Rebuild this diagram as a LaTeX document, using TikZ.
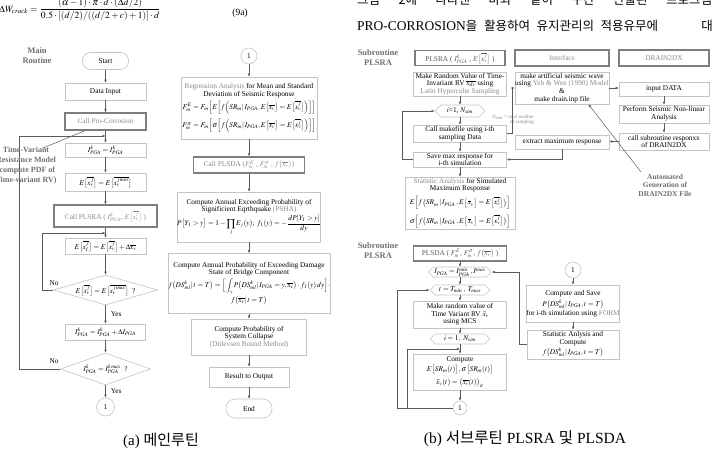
\documentclass[tikz,border=0pt]{standalone}
\usepackage{mathptmx}
\usepackage{fontspec}
\setmainfont{Liberation Serif}
\newfontfamily\kr{Noto Sans CJK KR}
\usetikzlibrary{arrows.meta,shapes.geometric,shapes.symbols,calc}
\definecolor{bgray}{HTML}{C4C4C4}
\definecolor{tgray}{HTML}{8A8A8A}
\definecolor{lgray}{HTML}{5A5A5A}
\definecolor{dgray}{HTML}{7E7E7E}
\definecolor{lblgray}{HTML}{707070}
\newcommand\fsz{\fontsize{7.3}{7.7}\selectfont}
\tikzset{
 fbox/.style={draw=bgray, line width=0.6pt, fill=white, align=center, inner sep=0pt, font=\fsz},
 tbox/.style={draw=dgray, line width=1.3pt, fill=white, align=center, inner sep=0pt, font=\fsz},
 term/.style={fbox, rounded corners=8pt},
 dshape/.style={diamond, draw=bgray, line width=0.6pt, inner sep=0pt, fill=white},
 hshape/.style={signal, signal to=west and east, signal pointer angle=90, draw=bgray, line width=0.6pt, inner sep=0pt, fill=white},
 conn/.style={circle, draw=bgray, line width=0.6pt, inner sep=0pt, minimum size=#1, font=\fsz, fill=white},
 arr/.style={draw=lgray, line width=0.5pt, -{Latex[length=3pt,width=2.6pt]}},
 ln/.style={draw=lgray, line width=0.5pt},
 lbl/.style={font=\bfseries\fontsize{8.5}{10}\selectfont, text=lblgray, align=center, inner sep=0pt},
 txt/.style={font=\fsz, inner sep=0pt, align=center},
 pagetxt/.style={anchor=base west, inner sep=0pt, font=\fontsize{12.5}{13}\selectfont},
}
\begin{document}
\begin{tikzpicture}[x=1pt,y=-1pt]
\useasboundingbox (0,0) rectangle (712,450);
% ---------- top page text ----------
\node[anchor=base west, inner sep=0pt, font=\fontsize{9.5}{10}\selectfont] (eq) at (-1,12) {$\displaystyle \Delta W_{crack}=\frac{(\alpha-1)\cdot\pi\cdot d\cdot(\Delta d/2)}{0.5\cdot[(d/2)/((d/2+c)+1)]\cdot d}$};
\node[anchor=base, inner sep=0pt, font=\fontsize{9.5}{10}\selectfont] (eqn) at (240,15.5) {(9a)};
\node[pagetxt] (kr1) at (357,4.5) {\makebox[355pt][s]{\kr 그림 2에 나타낸 바와 같이 구간 산출된 프로그램}};
\node[pagetxt] (kr2) at (357,30) {\makebox[301pt][s]{{\fontsize{13.5}{14}\selectfont PRO-CORROSION}{\kr 을 활용하여 유지관리의 적용유무에}}};
\node[pagetxt, anchor=base east] (kr3) at (713,30) {\kr 대};
% ---------- (a) main routine ----------
\node[lbl] (mainlbl) at (37,56) {Main\\Routine};
\node[term, minimum width=46pt, minimum height=17pt] (start) at (105.5,61) {Start};
\node[fbox, minimum width=81pt, minimum height=17pt] (datain) at (105.5,91.5) {Data Input};
\node[tbox, minimum width=81pt, minimum height=17pt, text=tgray] (callpc) at (105.5,121.5) {Call Pro-Corrosion};
\node[fbox, minimum width=81pt, minimum height=14pt] (ipga1) at (105.5,150) {$I^{k}_{PGA}=I^{k}_{PGA}$};
\node[fbox, minimum width=81pt, minimum height=18pt] (ex1) at (105.5,182) {$E\big[\overline{x^{j}_{v}}\big]=E\big[\overline{x^{j\,min}_{v}}\big]$};
\node[tbox, minimum width=103pt, minimum height=22pt, text=tgray] (cplsra) at (105.5,216) {Call PLSRA ( $I^{k}_{PGA}$, $E\big[\overline{x^{j}_{v}}\big]$ )};
\node[fbox, minimum width=81pt, minimum height=16pt] (ex2) at (105.5,246) {$E\big[\overline{x^{j}_{I}}\big]=E\big[\overline{x^{j}_{v}}\big]+\Delta\overline{x_{v}}$};
\node[dshape, minimum width=104pt, minimum height=30pt] (dia1) at (105.5,290) {};
\node[txt] (dia1t) at (dia1) {$E\big[\overline{x^{j}_{v}}\big]=E\big[\overline{x^{j\,max}_{v}}\big]$\ \ ?};
\node[fbox, minimum width=80pt, minimum height=16pt] (ipga2) at (105.5,332) {$I^{k}_{PGA}=I^{k}_{PGA}+\Delta I_{PGA}$};
\node[dshape, minimum width=90pt, minimum height=32pt] (dia2) at (105.5,369) {};
\node[txt] (dia2t) at (dia2) {$I^{k}_{PGA}=I^{k\,max}_{PGA}$\ \ ?};
\node[conn=18pt] (c1) at (105.5,407) {1};
\coordinate (j1) at (105.5,233);
\coordinate (j2) at (105.5,136);
\coordinate (tvend) at (43,148);
\draw[arr] (start) -- (datain);
\draw[arr] (datain) -- (callpc);
\draw[arr] (callpc) -- (ipga1);
\draw[arr] (ipga1) -- (ex1);
\draw[arr] (ex1) -- (cplsra);
\draw[arr] (cplsra) -- (ex2);
\draw[arr] (ex2) -- (dia1);
\draw[arr] (dia1.south) -- (ipga2.north) node[midway, right=5pt, txt] {Yes};
\draw[arr] (ipga2) -- (dia2);
\draw[arr] (dia2.south) -- (c1.north) node[midway, right=5pt, txt] {Yes};
\draw[arr] (dia1.west) -- ++(-11,0) |- (j1);
\draw[arr] (dia2.west) -- ++(-40.5,0) |- (j2);
\node[txt] (no1) at (54,283) {No};
\node[txt] (no2) at (54,361) {No};
\draw[ln] ($(callpc.south west)!0.25!(callpc.south east)$) -- (tvend);
\node[lbl, font=\bfseries\fontsize{8}{10}\selectfont] (tvm) at (26,166) {Time-Variant\\Resistance Model\\(compute PDF of\\Time-variant RV)};
% ---------- (a) middle column ----------
\node[conn=16pt] (c2) at (249,56) {1};
\node[fbox, minimum width=136pt, minimum height=62pt] (regr) at (249,108) {{\color{tgray}Regression Analysis} for Mean and Standard\\Deviation of Seismic Response\\[2pt]
$F^{E}_{m}=F_{m}\Big[E\Big[f\Big(SR_{m}|\,I_{PGA},E\big[\overline{x_v}\big]=E\big[\overline{x^{j}_{v}}\big]\Big)\Big]\Big]$\\[4pt]
$F^{\sigma}_{m}=F_{m}\Big[\sigma\Big[f\Big(SR_{m}|\,I_{PGA},E\big[\overline{x_v}\big]=E\big[\overline{x^{j}_{v}}\big]\Big)\Big]\Big]$};
\node[tbox, minimum width=111pt, minimum height=16pt, text=tgray] (cplsda) at (249,165) {Call PLSDA ($F^{E}_{m}$ , $F^{\sigma}_{m}$ , $f\big(\overline{x_v}\big)$)};
\node[fbox, minimum width=139pt, minimum height=50pt] (psha) at (249,217) {Compute Annual Exceeding Probability of\\Significient Eqrthquake {\color{tgray}(PSHA)}\\[1pt]
$\displaystyle P\big[Y_1>y\big]=1-\prod_{j}E_j(y);\ f_1(y)=-\frac{dP[Y_1>y]}{dy}$};
\node[fbox, minimum width=142pt, minimum height=60pt] (dmg) at (249,283.5) {Compute Annual Probability of Exceeding Damage\\State of Bridge Component\\[1pt]
$\displaystyle f\big(DS^{k}_{ml}|\,t=T\big)=\Big[\int_{y}P\big(DS^{k}_{ml}|\,I_{PGA}=y,\overline{x_v}\big)\cdot f_1(y)\,dy\Big]\cdot$\\[1pt]
$f\big(\overline{x_v}|\,t=T\big)$};
\node[fbox, minimum width=115pt, minimum height=36pt] (sys) at (249,337) {Compute Probability of\\System Collapse\\{\color{tgray}(Ditlevsen Bound Method)}};
\node[fbox, minimum width=80pt, minimum height=20pt] (res) at (249,377) {Result to Output};
\node[term, minimum width=46pt, minimum height=19pt, rounded corners=9pt] (endn) at (249,408.5) {End};
\draw[arr] (c2) -- (regr);
\draw[arr] (regr) -- (cplsda);
\draw[arr] (cplsda) -- (psha);
\draw[arr] (psha) -- (dmg);
\draw[arr] (dmg) -- (sys);
\draw[arr] (sys) -- (res);
\draw[arr] (res) -- (endn);
\node[anchor=base, inner sep=0pt, font=\fontsize{15}{16}\selectfont] (capa) at (161,445) {(a) {\kr 메인루틴}};
% ---------- (b) PLSRA ----------
\node[lbl] (sublbl1) at (378,58) {Subroutine\\PLSRA};
\node[tbox, minimum width=90pt, minimum height=15pt, text=lgray] (plsra) at (460,58) {PLSRA ( $I^{k}_{PGA}$ , $E\big[\overline{x^{j}_{v}}\big]$ )};
\node[tbox, minimum width=94pt, minimum height=16pt, text=tgray] (iface) at (562,58) {Interface};
\node[tbox, minimum width=90pt, minimum height=16pt, text=tgray] (drain) at (664,58) {DRAIN2DX};
\node[fbox, minimum width=93pt, minimum height=24pt] (mrv) at (460,84) {Make Random Value of Time-\\Invariant RV $\overline{x_{dv}}$ using\\{\color{tgray}Latin Hypercube Sampling}};
\node[hshape, minimum width=50pt, minimum height=12pt] (hx1) at (460,111) {};
\node[txt] (hx1t) at (hx1) {$i$=1, $N_{sim}$};
\node[fbox, minimum width=93pt, minimum height=17pt] (mkf) at (460,133.5) {Call makefile using i-th\\sampling Data};
\node[fbox, minimum width=93pt, minimum height=15pt] (save) at (460,159.5) {Save max response for\\i-th simulation};
\node[fbox, minimum width=110pt, minimum height=52pt] (stat) at (460,203) {{\color{tgray}Statistic Analysis} for Simulated\\Maximum Response\\[3pt]
$E\Big[f\big(SR_m\,|\,I_{PGA}\,,E\big[\,\overline{x}_v\big]=E\big[\overline{x^{j}_{v}}\big]\big)\Big]$\\[4pt]
$\sigma\Big[f\big(SR_m\,|\,I_{PGA}\,,E\big[\,\overline{x}_v\big]=E\big[\overline{x^{j}_{v}}\big]\big)\Big]$};
\node[fbox, minimum width=94pt, minimum height=32pt] (mkw) at (562,88) {make artificial seismic wave\\using {\color{tgray}Yeh \& Wen (1990) Model}\\\&\\make drain.inp file};
\node[fbox, minimum width=90pt, minimum height=14pt] (inp) at (664,89) {input DATA};
\node[fbox, minimum width=90pt, minimum height=18pt] (perf) at (664,114) {Perform Seismic Non-linear\\Analysis};
\node[fbox, minimum width=90pt, minimum height=17pt] (csub) at (664,141.5) {call subroutine responxx\\of DRAIN2DX};
\node[fbox, minimum width=94pt, minimum height=14pt] (extr) at (562,142) {extract maximum response};
\node[inner sep=0pt, text=tgray, font=\fontsize{5}{5.5}\selectfont, align=right, anchor=east] (note) at (534,120) {$N_{sim}$ = total number\\of sampling};
\node[lbl, font=\bfseries\fontsize{7.5}{8.5}\selectfont] (auto) at (665,185) {Automated\\Generation of\\DRAIN2DX File};
\coordinate (autostart) at (641,172);
\draw[arr] (mrv) -- (hx1);
\draw[arr] (hx1) -- (mkf);
\draw[arr] (mkf) -- (save);
\draw[arr] (save) -- (stat);
\draw[arr] (save.west) -- ++(-11,0) |- (hx1.west);
\draw[arr] (mkf.east) -- ++(5,0) |- (mkw.west);
\draw[arr] (mkw.east) -- (mkw.east -| inp.west);
\draw[arr] (inp) -- (perf);
\draw[arr] (perf) -- (csub);
\draw[arr] (csub.west) -- (csub.west -| extr.east);
\draw[arr] (extr.south) |- (save.east);
\draw[arr] (autostart) -- ($(mkw.south west)!0.78!(mkw.south east)$);
% ---------- (b) PLSDA ----------
\node[lbl] (sublbl2) at (378,251) {Subroutine\\PLSRA};
\node[tbox, minimum width=93pt, minimum height=15pt, text=lgray] (plsda) at (460,253.5) {PLSDA ( $F^{E}_{m}$, $F^{\sigma}_{m}$, $f\big(\overline{x_v}\big)$ )};
\node[hshape, minimum width=63pt, minimum height=10pt] (hxA) at (460,272) {};
\node[txt] (hxAt) at (hxA) {$I_{PGA}=I^{min}_{PGA}\,,I^{max}$};
\node[hshape, minimum width=60pt, minimum height=10pt] (hxT) at (460,290) {};
\node[txt] (hxTt) at (hxT) {$t=T_{min}\,,\ T_{max}$};
\node[fbox, minimum width=93pt, minimum height=27pt] (mrv2) at (460,314.5) {Make random value of\\Time Variant RV $\tilde{x}_v$\\using MCS};
\node[hshape, minimum width=60pt, minimum height=10pt] (hxI) at (460,339) {};
\node[txt] (hxIt) at (hxI) {$i=1,\ N_{sim}$};
\node[fbox, minimum width=93pt, minimum height=36pt] (comp) at (460,372) {Compute\\[1.5pt]$E\big[SR_m(t)\big],\sigma\big[SR_m(t)\big]$\\[3pt]$\tilde{x}_v(t)=\big(\overline{x_v}(t)\big)_{it}$};
\node[conn=14pt] (c3) at (460,408) {1};
\node[conn=16pt] (c4) at (573,270) {1};
\node[fbox, minimum width=92pt, minimum height=37pt] (cas) at (573,303.5) {Compute and Save\\[2pt]$P\big(DS^{k}_{ml}|\,I_{PGA},t=T\big)$\\[1pt]for i-th simulation using {\color{tgray}FORM}};
\node[fbox, minimum width=92pt, minimum height=29pt] (sac) at (573,344.5) {Statistic Anlysis and\\Compute\\[1pt]$f\big(DS^{k}_{ml}|\,I_{PGA},t=T\big)$};
\coordinate (jI) at (460,349);
\coordinate (iloop) at (407,408);
\draw[arr] (plsda) -- (hxA);
\draw[arr] (hxA) -- (hxT);
\draw[arr] (hxT) -- (mrv2);
\draw[arr] (mrv2) -- (hxI);
\draw[arr] (hxI) -- (comp);
\draw[arr] (comp) -- (c3);
\draw[arr] (c4) -- (cas);
\draw[arr] (cas) -- (sac);
\draw[arr] (sac.west) -- ++(-7,0) |- (hxA.east);
\draw[arr] (c3.west) -- ++(-55,0) |- (hxT.west);
\draw[arr] (iloop) |- (jI);
\node[anchor=base, inner sep=0pt, font=\fontsize{15.5}{16}\selectfont] (capb) at (525,443) {(b) {\kr 서브루틴} PLSRA {\kr 및} PLSDA};
\end{tikzpicture}
\end{document}
